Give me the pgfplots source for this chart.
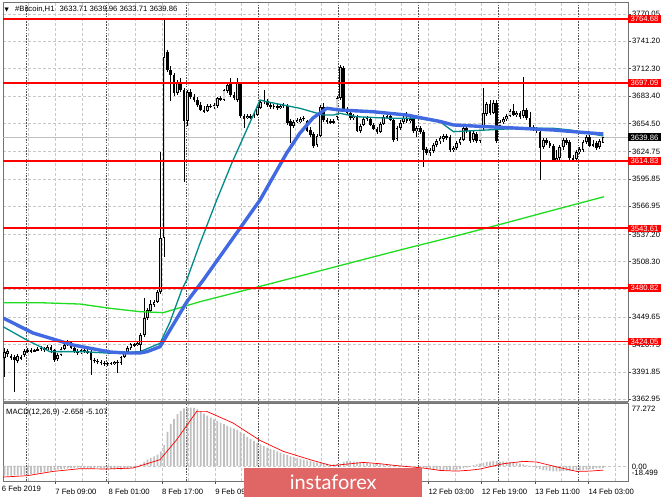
\documentclass[border=0pt]{standalone}
\usepackage{fontspec}
\setmainfont{Liberation Sans}
\newfontfamily\dejavu{DejaVu Sans}
\newfontfamily\lato{Lato}
\usepackage{pgfplots}
\usepackage{pgfplotstable}
\pgfplotsset{compat=1.18}
\newcommand\lab{\fontsize{7.7bp}{9bp}\selectfont}
\definecolor{mablue}{RGB}{65,105,225}
\definecolor{mateal}{RGB}{0,139,139}
\definecolor{magreen}{RGB}{30,220,30}
\definecolor{gridc}{RGB}{200,200,200}
\definecolor{sepc}{RGB}{80,80,80}
\definecolor{histc}{RGB}{192,192,192}
\definecolor{wmred}{RGB}{224,102,102}
\definecolor{bidc}{RGB}{190,190,190}

\pgfplotstableread{
b O H L C
0 3406.6 3417.2 3386.5 3412.9
1 3410.8 3416.1 3407.6 3414.0
2 3408.7 3410.8 3404.5 3406.6
3 3407.6 3409.8 3370.7 3404.5
4 3403.4 3410.8 3401.3 3408.7
5 3407.6 3409.8 3404.5 3406.6
6 3409.8 3416.1 3407.6 3414.0
7 3414.0 3417.2 3411.9 3415.0
8 3415.0 3417.2 3411.9 3414.0
9 3414.0 3416.1 3412.9 3415.0
10 3415.0 3418.2 3414.0 3416.1
11 3416.1 3419.3 3414.0 3417.2
12 3417.2 3418.2 3412.9 3415.0
13 3415.0 3420.3 3414.0 3418.2
14 3418.2 3420.3 3411.9 3415.0
15 3415.0 3416.1 3402.4 3404.5
16 3405.5 3411.9 3403.4 3409.8
17 3409.8 3418.2 3408.7 3416.1
18 3416.1 3422.4 3415.0 3420.3
19 3420.3 3425.6 3419.3 3423.5
20 3423.5 3424.6 3416.1 3417.2
21 3417.2 3418.2 3411.9 3414.0
22 3414.0 3416.1 3409.8 3411.9
23 3411.9 3416.1 3410.8 3415.0
24 3415.0 3416.1 3411.9 3414.0
25 3414.0 3416.1 3410.8 3412.9
26 3412.9 3415.0 3388.6 3404.5
27 3404.5 3406.6 3401.3 3403.4
28 3403.4 3405.5 3400.3 3402.4
29 3402.4 3404.5 3399.2 3401.3
30 3401.3 3403.4 3398.1 3400.3
31 3400.3 3402.4 3398.1 3401.3
32 3401.3 3402.4 3399.2 3400.3
33 3400.3 3403.4 3399.2 3402.4
34 3402.4 3404.5 3390.7 3401.3
35 3401.3 3408.7 3399.2 3407.6
36 3407.6 3414.0 3406.6 3412.9
37 3412.9 3419.3 3411.9 3417.2
38 3417.2 3422.4 3415.0 3421.4
39 3421.4 3422.4 3418.2 3420.3
40 3420.3 3423.5 3419.3 3422.4
41 3420.3 3433.0 3412.9 3430.9
42 3430.9 3470.0 3428.8 3448.9
43 3448.9 3459.4 3446.7 3457.3
44 3456.3 3467.9 3454.1 3463.6
45 3462.6 3467.9 3460.5 3465.8
46 3465.8 3478.4 3464.7 3476.3
47 3476.3 3624.2 3474.2 3533.4
48 3533.4 3764.7 3513.3 3724.6
49 3729.9 3732.0 3708.8 3710.9
50 3710.9 3715.1 3678.1 3705.6
51 3705.6 3707.7 3683.4 3686.6
52 3686.6 3700.3 3684.5 3698.2
53 3697.2 3702.4 3687.6 3689.8
54 3689.8 3691.9 3592.5 3657.0
55 3657.0 3689.8 3651.7 3687.6
56 3687.6 3690.8 3680.2 3682.4
57 3682.4 3685.5 3677.1 3679.2
58 3679.2 3682.4 3671.8 3673.9
59 3673.9 3677.1 3667.6 3668.6
60 3668.6 3672.9 3665.5 3667.6
61 3667.6 3675.0 3666.5 3672.9
62 3672.9 3675.0 3670.7 3671.8
63 3671.8 3676.0 3669.7 3673.9
64 3672.9 3682.4 3670.7 3681.3
65 3681.3 3683.4 3678.1 3679.2
66 3679.2 3690.8 3678.1 3689.8
67 3688.7 3697.2 3686.6 3695.0
68 3696.1 3702.4 3682.4 3684.5
69 3684.5 3687.6 3679.2 3681.3
70 3679.2 3702.4 3677.1 3698.2
71 3697.2 3698.2 3660.2 3662.3
72 3662.3 3664.4 3649.6 3659.1
73 3660.2 3664.4 3659.1 3662.3
74 3662.3 3664.4 3659.1 3661.2
75 3661.2 3665.5 3660.2 3663.3
76 3663.3 3672.9 3662.3 3671.8
77 3670.7 3679.2 3669.7 3677.1
78 3677.1 3689.8 3675.0 3679.2
79 3678.1 3680.2 3671.8 3673.9
80 3673.9 3676.0 3669.7 3671.8
81 3671.8 3675.0 3669.7 3672.9
82 3672.9 3675.0 3668.6 3670.7
83 3670.7 3675.0 3669.7 3672.9
84 3672.9 3676.0 3670.7 3673.9
85 3672.9 3675.0 3652.8 3654.9
86 3657.0 3659.1 3633.8 3651.7
87 3651.7 3658.1 3649.6 3655.9
88 3655.9 3660.2 3654.9 3658.1
89 3655.9 3661.2 3654.9 3659.1
90 3659.1 3662.3 3657.0 3660.2
91 3657.0 3658.1 3645.4 3646.4
92 3647.5 3650.7 3640.1 3642.2
93 3643.3 3645.4 3628.5 3630.6
94 3631.6 3643.3 3629.5 3641.2
95 3641.2 3673.9 3640.1 3671.8
96 3671.8 3676.0 3655.9 3658.1
97 3658.1 3660.2 3653.8 3655.9
98 3655.9 3659.1 3653.8 3657.0
99 3657.0 3659.1 3653.8 3654.9
100 3661.2 3683.4 3658.1 3681.3
101 3681.3 3716.2 3679.2 3714.1
102 3713.0 3715.1 3667.6 3668.6
103 3668.6 3671.8 3663.3 3665.5
104 3665.5 3667.6 3658.1 3660.2
105 3660.2 3664.4 3658.1 3662.3
106 3661.2 3663.3 3645.4 3646.4
107 3646.4 3653.8 3644.3 3651.7
108 3652.8 3661.2 3651.7 3659.1
109 3659.1 3662.3 3657.0 3660.2
110 3659.1 3661.2 3651.7 3652.8
111 3652.8 3654.9 3647.5 3648.5
112 3648.5 3650.7 3643.3 3645.4
113 3645.4 3655.9 3644.3 3653.8
114 3653.8 3663.3 3652.8 3661.2
115 3661.2 3664.4 3659.1 3662.3
116 3662.3 3664.4 3657.0 3658.1
117 3658.1 3660.2 3634.8 3636.9
118 3638.0 3651.7 3635.9 3649.6
119 3649.6 3658.1 3647.5 3654.9
120 3655.9 3662.3 3653.8 3660.2
121 3660.2 3666.5 3654.9 3657.0
122 3657.0 3661.2 3654.9 3659.1
123 3659.1 3660.2 3644.3 3646.4
124 3646.4 3651.7 3640.1 3649.6
125 3649.6 3651.7 3643.3 3645.4
126 3645.4 3647.5 3608.4 3626.4
127 3627.4 3629.5 3621.1 3623.2
128 3623.2 3628.5 3620.0 3626.4
129 3625.3 3633.8 3623.2 3631.6
130 3631.6 3638.0 3629.5 3635.9
131 3635.9 3641.2 3632.7 3639.0
132 3638.0 3643.3 3634.8 3641.2
133 3641.2 3643.3 3636.9 3639.0
134 3640.1 3642.2 3624.2 3626.4
135 3626.4 3630.6 3624.2 3628.5
136 3628.5 3635.9 3626.4 3633.8
137 3633.8 3640.1 3631.6 3638.0
138 3636.9 3651.7 3635.9 3649.6
139 3649.6 3651.7 3644.3 3646.4
140 3646.4 3647.5 3633.8 3635.9
141 3636.9 3646.4 3634.8 3644.3
142 3643.3 3645.4 3633.8 3635.9
143 3635.9 3652.8 3633.8 3650.7
144 3649.6 3691.9 3647.5 3665.5
145 3664.4 3677.1 3662.3 3675.0
146 3675.0 3679.2 3663.3 3665.5
147 3665.5 3679.2 3664.4 3676.0
148 3676.0 3679.2 3633.8 3635.9
149 3651.7 3658.1 3649.6 3655.9
150 3655.9 3661.2 3653.8 3659.1
151 3659.1 3664.4 3657.0 3662.3
152 3662.3 3669.7 3661.2 3667.6
153 3667.6 3675.0 3662.3 3663.3
154 3663.3 3667.6 3661.2 3665.5
155 3665.5 3667.6 3659.1 3661.2
156 3662.3 3703.5 3660.2 3668.6
157 3668.6 3670.7 3658.1 3660.2
158 3660.2 3666.5 3649.6 3650.7
159 3650.7 3652.8 3646.4 3648.5
160 3648.5 3650.7 3644.3 3646.4
161 3645.4 3647.5 3594.7 3628.5
162 3629.5 3639.0 3627.4 3636.9
163 3636.9 3639.0 3631.6 3633.8
164 3633.8 3635.9 3628.5 3630.6
165 3630.6 3632.7 3614.7 3615.8
166 3615.8 3626.4 3613.7 3617.9
167 3617.9 3631.6 3615.8 3629.5
168 3629.5 3639.0 3626.4 3636.9
169 3636.9 3639.0 3631.6 3633.8
170 3634.8 3636.9 3615.8 3617.9
171 3617.9 3621.1 3614.7 3615.8
172 3616.9 3626.4 3614.7 3624.2
173 3624.2 3629.5 3622.1 3627.4
174 3626.4 3636.9 3624.2 3634.8
175 3634.8 3642.2 3632.7 3640.1
176 3640.1 3642.2 3629.5 3630.6
177 3631.6 3636.9 3629.5 3632.7
178 3633.8 3635.9 3626.4 3628.5
179 3629.5 3638.0 3627.4 3635.9
180 3633.71 3639.96 3633.71 3639.86
}\candles

\pgfplotstableread{
b v
-0.45 3448.9
8.57 3433.0
20.6 3420.3
31.73 3412.9
36.24 3411.9
40.75 3411.9
42.86 3413.3
46.77 3418.5
50.68 3441.5
54.8 3465.8
59.79 3489.0
76.84 3573.5
84.87 3623.2
88.87 3644.3
92.78 3660.2
96.9 3670.4
100.9 3668.6
110.83 3666.8
120.96 3663.3
125.95 3659.9
130.98 3656.5
134.98 3652.8
145.02 3651.0
155.04 3649.3
165.05 3647.5
175.1 3644.6
180.09 3643.3
}\maBlue

\pgfplotstableread{
b v
-0.45 3439.7
6.68 3425.6
13.68 3413.3
23.61 3413.3
31.73 3411.6
40.75 3413.3
46.77 3422.1
49.77 3444.6
53.29 3478.4
54.8 3489.0
58.8 3527.8
63.82 3573.5
68.33 3612.3
76.84 3679.2
78.86 3677.4
83.85 3673.9
88.87 3670.4
95.88 3663.3
98.89 3663.3
100.9 3665.1
105.92 3661.5
115.94 3659.9
123.97 3659.9
130.98 3656.3
134.98 3645.7
145.02 3647.5
155.04 3649.3
165.05 3649.3
170.08 3647.5
180.09 3641.2
}\maTeal

\pgfplotstableread{
b v
-0.45 3465.0
10.68 3465.0
22.71 3463.6
31.73 3459.1
40.75 3455.5
47.76 3454.5
53.77 3460.8
58.8 3466.1
73.83 3479.5
88.87 3493.2
103.91 3507.0
118.95 3520.7
133.98 3533.9
149.02 3547.7
164.06 3561.9
180.3 3577.0
}\maGreen

\pgfplotstableread{
b m
0 -12
1 -12
2 -12
3 -11.5
4 -11.5
5 -11
6 -11
7 -10.5
8 -10
9 -9.5
10 -9
11 -8
12 -7.5
13 -7
14 -6
15 -5
16 -4.5
17 -4
18 -3.5
19 -3
20 -2.5
21 -2.5
22 -2
23 -2
24 -2.5
25 -3
26 -3
27 -3
28 -3
29 -3
30 -3
31 -3
32 -3.5
33 -4
34 -4
35 -4.5
36 -4
37 -4
38 -3
39 -2
40 0
41 2
42 5
43 8
44 10
45 12
46 14
47 18
48 26
49 42
50 52
51 58
52 64
53 68
54 71
55 72
56 72
57 71.5
58 70
59 67.5
60 64.5
61 62
62 59.5
63 57.5
64 55.5
65 53.5
66 51.5
67 49.5
68 47.5
69 46
70 44.5
71 42
72 40
73 36
74 33.5
75 31
76 28.5
77 26.5
78 24.5
79 22.5
80 21
81 20
82 18
83 16.5
84 15
85 13.5
86 12
87 11
88 10
89 9
90 8
91 7
92 6
93 5
94 4
95 3.5
96 3
97 2.5
98 2
99 2
100 2.5
101 3
102 5
103 6
104 6
105 5.5
106 5
107 4.5
108 4
109 3.5
110 3
111 3
112 2.5
113 2.5
114 2
115 2
116 1.5
117 1
118 1
119 0.5
120 0.5
121 0.5
122 0
123 0
124 -0.5
125 -1
126 -2
127 -3
128 -4
129 -4.5
130 -5
131 -5
132 -5.5
133 -5.5
134 -5.5
135 -5
136 -4.5
137 -4
138 -3
139 -2
140 -1
141 1
142 2
143 3
144 4
145 5
146 5.5
147 6
148 6
149 5.5
150 5.5
151 5
152 5
153 4.5
154 4
155 3
156 2
157 1
158 -0.5
159 -1.5
160 -2.5
161 -4
162 -5
163 -5.5
164 -6
165 -6.5
166 -6.5
167 -6.5
168 -6
169 -6
170 -6
171 -6
172 -5.5
173 -5.5
174 -5
175 -4.5
176 -4
177 -3.5
178 -3
179 -3
180 -2.658
}\macdHist

\pgfplotstableread{
b s
-0.45 -13.6
6.68 -12.0
14.59 -6.7
22.71 -3.3
30.74 -3.7
38.65 -2.5
46.77 7.8
51.79 32.4
57.8 67.3
60.81 67.3
68.72 53.0
76.84 31.5
83.85 18.0
91.88 7.8
98.35 0.4
107.9 4.4
112.9 2.8
117.96 0.4
125.95 -2.5
131 -5.5
136 -6.3
140 -5.2
143 -3.7
146.5 -0.5
150 2.8
156 5.7
160.05 4.9
166.08 -1.2
172.1 -6.7
176 -6.3
180.1 -5.1
}\macdSignal

\tikzset{
  gridline/.style={gridc, dash pattern=on 2.5bp off 2.5bp, line width=0.6bp},
  sepline/.style={sepc, dash pattern=on 1.6bp off 1.2bp, line width=0.8bp},
  redlab/.style={fill=red, text=white, anchor=west, inner xsep=2.3bp, inner ysep=1bp, text height=5.6bp, text depth=0pt, font=\lab},
}

\begin{document}
\begin{tikzpicture}
\useasboundingbox (0,0) rectangle (665bp,499bp);
\fill[white] (0,0) rectangle (665bp,499bp);

\begin{axis}[
  at={(3bp,98bp)}, anchor=south west, scale only axis,
  width=625bp, height=399bp,
  xmin=-0.45, xmax=187.5, ymin=3361.15, ymax=3782.74,
  clip mode=individual,
  axis line style={draw=black!55, line width=0.7bp},
  xtick={15.24,31.27,47.31,63.34,79.37,95.4,111.43,127.46,143.5,159.53,175.56},
  minor xtick={7.23,23.26,39.29,55.32,71.35,87.38,103.42,119.45,135.48,151.51,167.54,183.57},
  xticklabels={}, xmajorgrids, xminorgrids,
  x tick style={draw=none}, minor tick length=0pt,
  ytick={3362.95,3391.85,3420.75,3449.65,3479.40,3508.30,3537.20,3566.95,3595.85,3624.75,3654.50,3683.40,3712.30,3741.20,3770.05},
  yticklabels={3362.95,3391.85,3420.75,3449.65,,3508.30,3537.20,3566.95,3595.85,3624.75,3654.50,3683.40,3712.30,3741.20,3770.05},
  ytick pos=right, yticklabel pos=right, ymajorgrids,
  tick align=outside, major tick length=3bp,
  y tick style={draw=black!70, line width=0.6bp},
  yticklabel style={font=\lab, anchor=west, inner sep=0pt, xshift=1bp},
  major grid style={gridline}, minor grid style={gridline},
]
\pgfplotsinvokeforeach{6.68,30.74,54.8,76.33,100.39,124.45,148.51,172.57}{
  \draw[sepline] (axis cs:#1,3361.15) -- (axis cs:#1,3782.74);
}
\addplot[bidc, line width=0.7bp] coordinates {(-0.45,3639.86) (187.5,3639.86)};

% wicks
\addplot[draw=none, mark=none, forget plot,
  error bars/.cd, y dir=both, y explicit, error mark=none,
  error bar style={draw=black, line width=0.75bp}]
  table[x=b, y expr={(\thisrow{H}+\thisrow{L})/2}, y error expr={(\thisrow{H}-\thisrow{L})/2}] {\candles};
% bodies
\addplot[draw=none, mark=none, forget plot,
  error bars/.cd, y dir=both, y explicit, error mark=none,
  error bar style={draw=black, line width=2.7bp}]
  table[x=b, y expr={(\thisrow{O}+\thisrow{C})/2}, y error expr={abs(\thisrow{C}-\thisrow{O})/2+0.45}] {\candles};
% bull interiors
\addplot[draw=none, mark=none, forget plot,
  error bars/.cd, y dir=both, y explicit, error mark=none,
  error bar style={draw=white!85!black, line width=1.1bp}]
  table[x=b, y expr={(\thisrow{O}+\thisrow{C})/2}, y error expr={max((\thisrow{C}-\thisrow{O})/2-0.6,0)}] {\candles};

\addplot[magreen, line width=1.3bp] table[x=b, y=v] {\maGreen};
\addplot[mateal, line width=1.3bp] table[x=b, y=v] {\maTeal};
\addplot[mablue, line width=3.4bp, line join=round] table[x=b, y=v] {\maBlue};

\addplot[red, line width=1.8bp] coordinates {(-0.45,3764.68) (187.5,3764.68)};
\addplot[red, line width=1.8bp] coordinates {(-0.45,3697.09) (187.5,3697.09)};
\addplot[red, line width=1.8bp] coordinates {(-0.45,3614.83) (187.5,3614.83)};
\addplot[red, line width=1.8bp] coordinates {(-0.45,3543.61) (187.5,3543.61)};
\addplot[red, line width=1.8bp] coordinates {(-0.45,3480.82) (187.5,3480.82)};
\addplot[red, line width=1.8bp] coordinates {(-0.45,3424.05) (187.5,3424.05)};

\node[redlab] at (axis cs:187.5,3764.68) {3764.68};
\node[redlab] at (axis cs:187.5,3697.09) {3697.09};
\node[redlab, fill=black] at (axis cs:187.5,3639.86) {3639.86};
\node[redlab] at (axis cs:187.5,3614.83) {3614.83};
\node[redlab] at (axis cs:187.5,3543.61) {3543.61};
\node[redlab] at (axis cs:187.5,3480.82) {3480.82};
\node[redlab] at (axis cs:187.5,3424.05) {3424.05};
\end{axis}

\begin{axis}[
  at={(3bp,18bp)}, anchor=south west, scale only axis,
  width=625bp, height=77.7bp,
  xmin=-0.45, xmax=187.5, ymin=-18.499, ymax=77.272,
  clip mode=individual,
  axis line style={draw=black!55, line width=0.7bp},
  xtick={15.24,31.27,47.31,63.34,79.37,95.4,111.43,127.46,143.5,159.53,175.56},
  xticklabels={7 Feb 09:00,8 Feb 01:00,8 Feb 17:00,9 Feb 09:00,,,,12 Feb 03:00,12 Feb 19:00,13 Feb 11:00,14 Feb 03:00},
  minor xtick={7.23,23.26,39.29,55.32,71.35,87.38,103.42,119.45,135.48,151.51,167.54,183.57},
  xmajorgrids, xminorgrids, xtick pos=bottom, xticklabel pos=lower,
  tick align=outside, major tick length=3bp, minor tick length=0pt,
  x tick style={draw=black!70, line width=0.6bp},
  xticklabel style={font=\lab, anchor=base west, inner sep=0pt, yshift=-10.7bp},
  ytick={0}, yticklabels={}, ymajorgrids, y tick style={draw=none},
  major grid style={gridline}, minor grid style={gridline},
]
\pgfplotsinvokeforeach{6.68,30.74,54.8,76.33,100.39,124.45,148.51,172.57}{
  \draw[sepline] (axis cs:#1,-18.499) -- (axis cs:#1,77.272);
}
\addplot[ybar, bar width=1.7bp, fill=histc, draw=none] table[x=b, y=m] {\macdHist};
\addplot[red, line width=0.7bp] table[x=b, y=s] {\macdSignal};
\end{axis}

% panel divider
\fill[black!50] (3bp,95.7bp) rectangle (628bp,98bp);

% titles and labels
\node[anchor=base west, inner sep=0pt, font=\dejavu\fontsize{5.5bp}{6bp}\selectfont] at (4.5bp,487.6bp) {▼};
\node[anchor=base west, inner sep=0pt, font=\lab] at (15bp,487.3bp) {\#Bitcoin,H1\hspace{3bp} 3633.71 3639.96 3633.71 3639.86};
\node[anchor=base west, inner sep=0pt, font=\lab] at (6bp,84.5bp) {MACD(12,26,9) -2.658 -5.107};
\node[anchor=base west, inner sep=0pt, font=\lab] at (1.7bp,7.3bp) {6 Feb 2019};
\node[anchor=west, inner sep=0pt, font=\lab] at (631.7bp,90bp) {77.272};
\node[anchor=west, inner sep=0pt, font=\lab] at (631.7bp,32.3bp) {0.00};
\node[anchor=west, inner sep=0pt, font=\lab] at (631.7bp,25.7bp) {-18.499};

% watermark
\node[fill=wmred, inner sep=0pt, minimum width=178bp, minimum height=29bp, anchor=north west, text=white, font=\lato\fontsize{20bp}{20bp}\selectfont] at (244bp,31bp) {instaforex};
\end{tikzpicture}
\end{document}
